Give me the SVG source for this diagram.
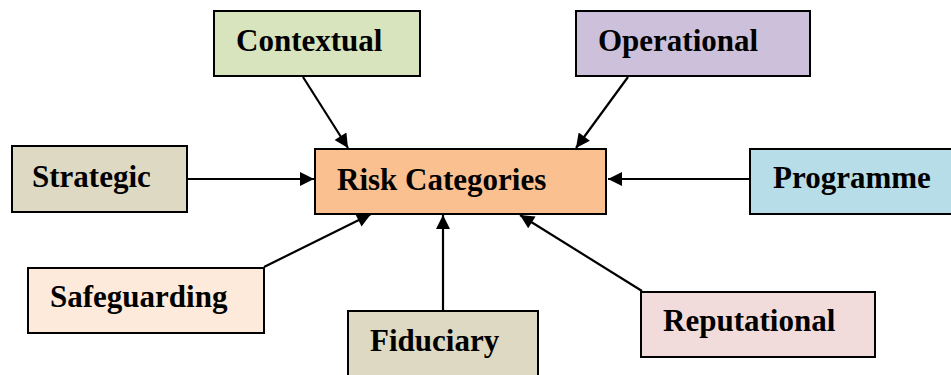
<svg xmlns="http://www.w3.org/2000/svg" width="951" height="375" viewBox="0 0 951 375">
<style>
.box{stroke:#000;stroke-width:2}
text{font-family:'Liberation Serif','Times New Roman','DejaVu Serif',serif;font-weight:700;font-size:31px;fill:#000}
.conn line{stroke:#000;stroke-width:2.2;fill:none}
</style>
<defs>
<marker id="ah" viewBox="0 0 10 10" refX="10" refY="5" markerUnits="userSpaceOnUse" markerWidth="16" markerHeight="14" orient="auto">
<path d="M0,0 L10,5 L0,10 z" fill="#000"/>
</marker>
</defs>
<rect width="951" height="375" fill="#fff"/>
<g id="risk"><rect class="box" x="315" y="149" width="291" height="65" fill="#FAC090"/><text x="337" y="190">Risk Categories</text></g>
<g id="contextual"><rect class="box" x="214" y="11" width="206" height="65" fill="#D7E4BD"/><text x="236" y="51">Contextual</text></g>
<g id="operational"><rect class="box" x="576" y="11" width="234" height="65" fill="#CCC0DA"/><text x="598" y="51">Operational</text></g>
<g id="strategic"><rect class="box" x="12" y="146" width="175" height="66" fill="#DDD9C3"/><text x="32" y="187">Strategic</text></g>
<g id="programme"><rect class="box" x="750" y="149" width="205" height="65" fill="#B7DEE8"/><text x="773" y="188">Programme</text></g>
<g id="safeguarding"><rect class="box" x="28" y="268" width="236" height="65" fill="#FDEADA"/><text x="50" y="307">Safeguarding</text></g>
<g id="fiduciary"><rect class="box" x="348" y="311" width="190" height="70" fill="#DDD9C3"/><text x="370" y="351">Fiduciary</text></g>
<g id="reputational"><rect class="box" x="641" y="292" width="234" height="65" fill="#F2DCDB"/><text x="663" y="331">Reputational</text></g>
<g id="connectors" class="conn">
<line x1="303" y1="77" x2="348" y2="148" marker-end="url(#ah)"/>
<line x1="628" y1="77" x2="576" y2="148" marker-end="url(#ah)"/>
<line x1="188" y1="179" x2="314" y2="179" marker-end="url(#ah)"/>
<line x1="749" y1="179" x2="608" y2="179" marker-end="url(#ah)"/>
<line x1="264" y1="267" x2="371" y2="214" marker-end="url(#ah)"/>
<line x1="443" y1="310" x2="443" y2="215" marker-end="url(#ah)"/>
<line x1="642" y1="291" x2="520" y2="215" marker-end="url(#ah)"/>
</g>
</svg>
